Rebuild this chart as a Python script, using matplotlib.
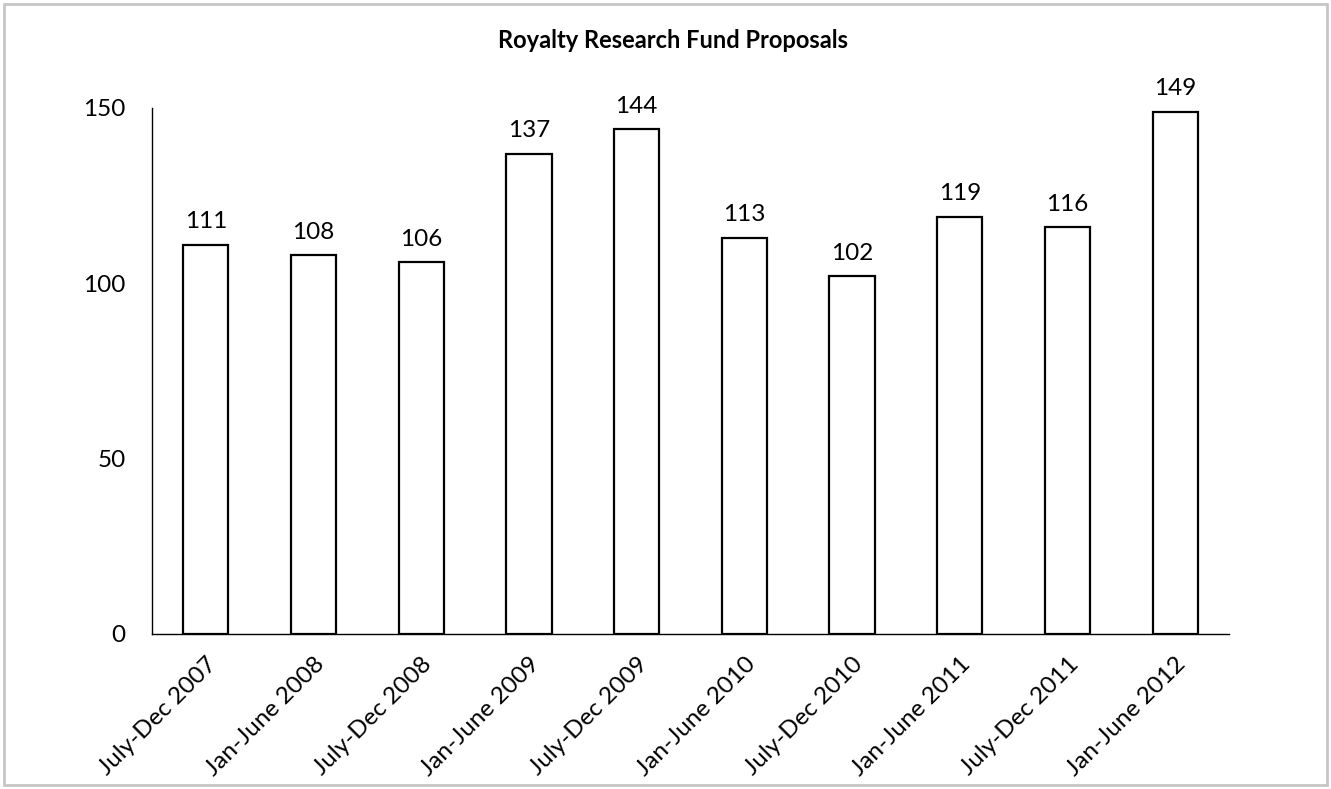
import matplotlib
matplotlib.use("Agg")
from matplotlib import pyplot as plt
from matplotlib.patches import Rectangle

periods = ["July-Dec 2007", "Jan-June 2008", "July-Dec 2008", "Jan-June 2009",
           "July-Dec 2009", "Jan-June 2010", "July-Dec 2010", "Jan-June 2011",
           "July-Dec 2011", "Jan-June 2012"]
proposals = [111, 108, 106, 137, 144, 113, 102, 119, 116, 149]

plt.rcParams['font.family'] = ['Lato', 'DejaVu Sans']

fig = plt.figure(figsize=(13.31, 7.89), dpi=100)
ax = fig.add_axes([152/1331, 1 - 634/789, (1229-152)/1331, (634-108)/789])

x = range(len(periods))
bars = ax.bar(x, proposals, width=0.42, color='white', edgecolor='black', linewidth=1.6)

for b, v in zip(bars, proposals):
    ax.annotate(str(v), (b.get_x() + b.get_width()/2, v), xytext=(0, 9),
                textcoords='offset points', ha='center', va='bottom', fontsize=17.5)

ax.set_xlim(-0.5, len(periods) - 0.5)
ax.set_ylim(0, 150)
ax.set_yticks([0, 50, 100, 150])
ax.set_xticks(list(x))
ax.set_xticklabels(periods, rotation=45, ha='right', rotation_mode='anchor', fontsize=17.5)
ax.tick_params(axis='both', length=0, labelsize=17.5)
ax.tick_params(axis='y', pad=19)
ax.tick_params(axis='x', pad=14)
for s in ['top', 'right']:
    ax.spines[s].set_visible(False)
ax.spines['left'].set_linewidth(1.0)
ax.spines['bottom'].set_linewidth(1.0)

fig.text(673/1331, 1 - 48/789, "Royalty Research Fund Proposals", ha='center', va='baseline',
         fontsize=17, fontweight='bold')

# grey chart-area frame
fig.patches.append(Rectangle((4/1331, 4/789), 1323/1331, 781/789, transform=fig.transFigure,
                             fill=False, edgecolor='#c6c6c6', linewidth=2))

plt.savefig("out.png", dpi=100)
